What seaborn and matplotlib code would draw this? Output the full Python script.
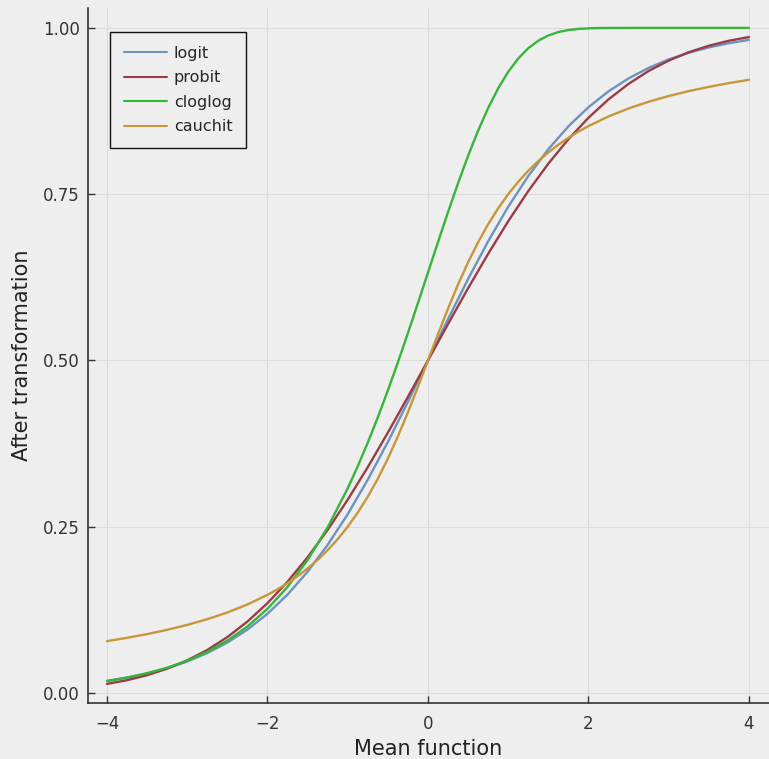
import pandas as pd
import matplotlib
matplotlib.use("Agg")
import matplotlib.pyplot as plt
import seaborn as sns

# Linear predictor (mean function) values and transformed probabilities per link
x_vals = [-4.0, -3.75, -3.5, -3.25, -3.0, -2.75, -2.5, -2.25, -2.0, -1.75, -1.5,
          -1.25, -1.0, -0.75, -0.5, -0.25, 0.0, 0.25, 0.5, 0.75, 1.0, 1.25, 1.5,
          1.75, 2.0, 2.25, 2.5, 2.75, 3.0, 3.25, 3.5, 3.75, 4.0]

logit = [0.0180, 0.0230, 0.0293, 0.0373, 0.0474, 0.0601, 0.0759, 0.0953, 0.1192,
         0.1480, 0.1824, 0.2227, 0.2689, 0.3208, 0.3775, 0.4378, 0.5000, 0.5622,
         0.6225, 0.6792, 0.7311, 0.7773, 0.8176, 0.8520, 0.8808, 0.9047, 0.9241,
         0.9399, 0.9526, 0.9627, 0.9707, 0.9770, 0.9820]

probit = [0.0137, 0.0193, 0.0268, 0.0366, 0.0491, 0.0647, 0.0841, 0.1074, 0.1351,
          0.1673, 0.2041, 0.2453, 0.2907, 0.3396, 0.3914, 0.4452, 0.5000, 0.5548,
          0.6086, 0.6604, 0.7093, 0.7547, 0.7959, 0.8327, 0.8649, 0.8926, 0.9159,
          0.9353, 0.9509, 0.9634, 0.9732, 0.9807, 0.9863]

cloglog_x = [-4.0, -3.75, -3.5, -3.25, -3.0, -2.75, -2.5, -2.25, -2.0, -1.75, -1.5,
             -1.25, -1.0, -0.875, -0.75, -0.625, -0.5, -0.375, -0.25, -0.125, 0.0,
             0.125, 0.25, 0.375, 0.5, 0.625, 0.75, 0.875, 1.0, 1.125, 1.25, 1.375,
             1.5, 1.625, 1.75, 1.875, 2.0, 2.125, 2.25, 2.5, 2.75, 3.0, 3.25, 3.5,
             3.75, 4.0]
cloglog = [0.0182, 0.0233, 0.0298, 0.0380, 0.0486, 0.0619, 0.0788, 0.1000, 0.1266,
           0.1595, 0.2000, 0.2491, 0.3078, 0.3409, 0.3765, 0.4145, 0.4548, 0.4971,
           0.5411, 0.5863, 0.6321, 0.6780, 0.7231, 0.7666, 0.8077, 0.8456, 0.8796,
           0.9092, 0.9340, 0.9540, 0.9695, 0.9808, 0.9887, 0.9938, 0.9968, 0.9985,
           0.9994, 0.9998, 0.9999, 1.0000, 1.0000, 1.0000, 1.0000, 1.0000, 1.0000,
           1.0000]

cauchit_x = [-4.0, -3.75, -3.5, -3.25, -3.0, -2.75, -2.5, -2.25, -2.0, -1.875, -1.75,
             -1.625, -1.5, -1.375, -1.25, -1.125, -1.0, -0.875, -0.75, -0.625, -0.5,
             -0.375, -0.25, -0.125, 0.0, 0.125, 0.25, 0.375, 0.5, 0.625, 0.75, 0.875,
             1.0, 1.125, 1.25, 1.375, 1.5, 1.625, 1.75, 1.875, 2.0, 2.25, 2.5, 2.75,
             3.0, 3.25, 3.5, 3.75, 4.0]
cauchit = [0.0780, 0.0830, 0.0886, 0.0950, 0.1024, 0.1110, 0.1211, 0.1331, 0.1476,
           0.1559, 0.1652, 0.1756, 0.1872, 0.2002, 0.2148, 0.2313, 0.2500, 0.2712,
           0.2952, 0.3222, 0.3524, 0.3858, 0.4220, 0.4604, 0.5000, 0.5396, 0.5780,
           0.6142, 0.6476, 0.6778, 0.7048, 0.7288, 0.7500, 0.7687, 0.7852, 0.7998,
           0.8128, 0.8244, 0.8348, 0.8441, 0.8524, 0.8669, 0.8789, 0.8890, 0.8976,
           0.9050, 0.9114, 0.9170, 0.9220]

links = ["logit", "probit", "cloglog", "cauchit"]
xs = [x_vals, x_vals, cloglog_x, cauchit_x]
series = [logit, probit, cloglog, cauchit]
colors = ["#6C93BE", "#9A3B46", "#35B53A", "#C8963A"]

df = pd.concat(
    [pd.DataFrame({"x": xv, "y": ys, "link": name})
     for name, xv, ys in zip(links, xs, series)],
    ignore_index=True,
)

bg = "#EEEEEE"
sns.set_theme(style="ticks")
plt.rcParams["font.family"] = ["DejaVu Sans"]

fig = plt.figure(figsize=(7.69, 7.59), dpi=100, facecolor=bg)
ax = fig.add_axes([0.1144, 0.0738, 0.8856, 0.9157])
ax.set_facecolor(bg)

sns.lineplot(data=df, x="x", y="y", hue="link", hue_order=links,
             palette=colors, linewidth=1.7, ax=ax, legend=True, sort=True)

ax.set_xlim(-4.237, 4.25)
ax.set_ylim(-0.015, 1.030)
ax.set_xticks([-4, -2, 0, 2, 4])
ax.set_xticklabels(["\u22124", "\u22122", "0", "2", "4"])
ax.set_yticks([0.0, 0.25, 0.5, 0.75, 1.0])
ax.set_yticklabels(["0.00", "0.25", "0.50", "0.75", "1.00"])
ax.grid(True, color="#DCDCDC", linewidth=0.8)
ax.set_axisbelow(True)

for side in ["top", "right"]:
    ax.spines[side].set_visible(False)
for side in ["left", "bottom"]:
    ax.spines[side].set_color("#333333")
    ax.spines[side].set_linewidth(1.2)

ax.tick_params(direction="in", length=5, width=1.0, color="#333333",
               labelsize=12, labelcolor="#333333")
ax.tick_params(axis="x", pad=9)
ax.tick_params(axis="y", pad=6)

ax.set_xlabel("Mean function", fontsize=15, color="#222222", labelpad=4)
ax.set_ylabel("After transformation", fontsize=15, color="#222222", labelpad=8)

handles, labels = ax.get_legend_handles_labels()
leg = ax.legend(handles, labels, loc="upper left", bbox_to_anchor=(0.0323, 0.9655),
                borderaxespad=0.0, fontsize=11.5, frameon=True, fancybox=False,
                framealpha=1.0, facecolor=bg, edgecolor="#111111",
                handlelength=2.7, handletextpad=0.45, labelspacing=0.6,
                borderpad=0.85)
leg.get_frame().set_linewidth(1.0)
for line in leg.get_lines():
    line.set_linewidth(1.5)

fig.savefig("out.png", dpi=100, facecolor=bg)
